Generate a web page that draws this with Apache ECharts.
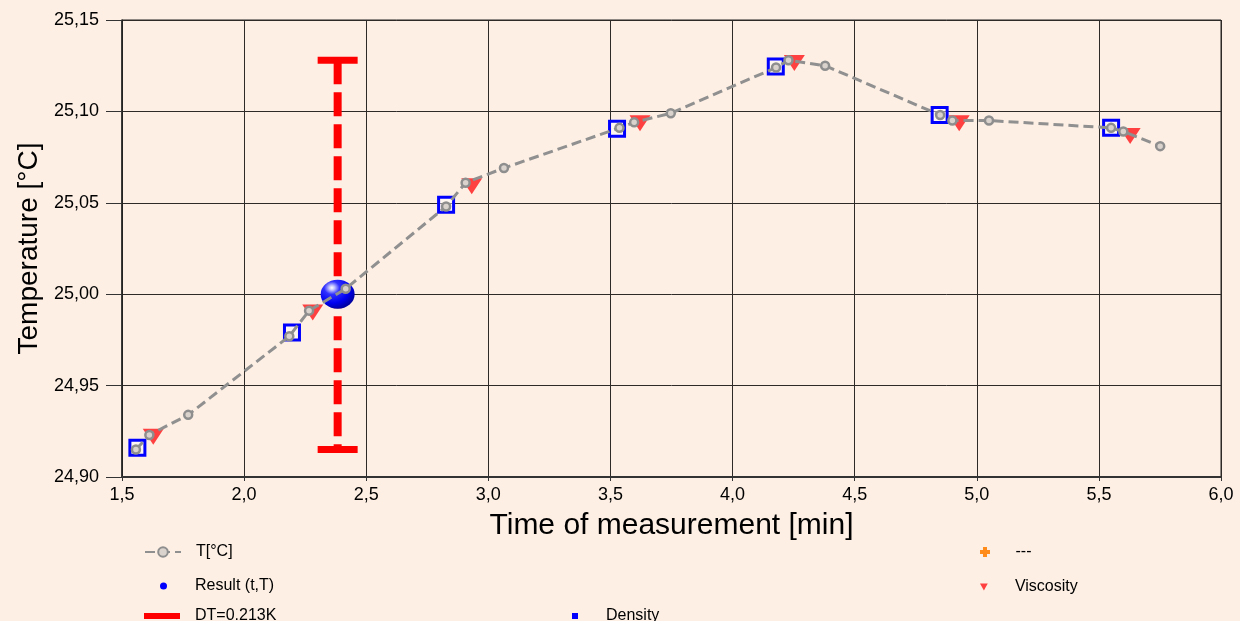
<!DOCTYPE html>
<html>
<head>
<meta charset="utf-8">
<script src="https://cdn.jsdelivr.net/npm/echarts@6/dist/echarts.min.js"></script>
<style>
  html, body { margin: 0; padding: 0; background: #fdefe4; }
  #chart { width: 1240px; height: 621px; }
</style>
</head>
<body>
<div id="chart"></div>
<script>
// Axis ticks
const xTicks = [1.5, 2.0, 2.5, 3.0, 3.5, 4.0, 4.5, 5.0, 5.5, 6.0];
const yTicks = [24.90, 24.95, 25.00, 25.05, 25.10, 25.15];

// Temperature trace T[°C]
const tTimes = [1.557, 1.612, 1.771, 2.185, 2.266, 2.416, 2.827, 2.907, 3.064, 3.537, 3.597,
                3.747, 4.178, 4.229, 4.379, 4.850, 4.900, 5.050, 5.550, 5.600, 5.751];
const tTemps = [24.915, 24.923, 24.934, 24.977, 24.991, 25.003, 25.048, 25.061, 25.069, 25.091, 25.094,
                25.099, 25.124, 25.128, 25.125, 25.098, 25.095, 25.095, 25.091, 25.089, 25.081];

// Density readings
const densityTimes = [1.563, 2.196, 2.827, 3.527, 4.177, 4.848, 5.550];
const densityTemps = [24.916, 24.979, 25.049, 25.0905, 25.1245, 25.098, 25.091];

// Viscosity readings
const viscosityTimes = [1.628, 2.281, 2.932, 3.621, 4.253, 4.928, 5.628];
const viscosityTemps = [24.922, 24.990, 25.059, 25.0935, 25.1265, 25.0935, 25.0865];

// Result point and temperature span
const resultTime = [2.383];
const resultTemp = [25.000];
const dtTop = [25.128];
const dtBottom = [24.915];

const zip = (a, b) => a.map((v, i) => [v, b[i]]);
const comma = (v, d) => v.toFixed(d).replace('.', ',');
const FONT = '"Liberation Sans", Arial, sans-serif';

const chart = echarts.init(document.getElementById('chart'), null, { renderer: 'canvas' });

const legendBase = {
  orient: 'horizontal',
  padding: 0,
  selectedMode: false,
  textStyle: { fontFamily: FONT, fontSize: 16, color: '#000' }
};
function legendAt(left, top, name, icon, w, h, color, gap) {
  const item = { name: name };
  if (icon) item.icon = icon;
  if (color) item.itemStyle = { color: color, borderWidth: 0, opacity: 1 };
  return Object.assign({}, legendBase, {
    left: left, top: top, itemWidth: w, itemHeight: h,
    data: [item],
    textStyle: Object.assign({}, legendBase.textStyle, { padding: [0, 0, 0, gap] })
  });
}

const option = {
  backgroundColor: '#fdefe4',
  animation: false,
  grid: {
    left: 122, right: 19, top: 20, bottom: 144,
    show: true, borderColor: '#222', borderWidth: 1, backgroundColor: 'transparent'
  },
  xAxis: {
    type: 'value',
    min: xTicks[0], max: xTicks[xTicks.length - 1], interval: 0.5,
    name: 'Time of measurement [min]',
    nameLocation: 'middle', nameGap: 34,
    nameTextStyle: { fontFamily: FONT, fontSize: 30, color: '#000' },
    axisLine: { show: true, onZero: false, lineStyle: { color: '#333', width: 2 } },
    axisTick: { show: true, length: 4, lineStyle: { color: '#333' } },
    axisLabel: { margin: 9, fontFamily: FONT, fontSize: 18, color: '#000',
      formatter: v => comma(v, 1) },
    splitLine: { show: true, lineStyle: { color: '#2e2a27', width: 1 } }
  },
  yAxis: {
    type: 'value',
    min: yTicks[0], max: yTicks[yTicks.length - 1], interval: 0.05,
    name: 'Temperature [°C]',
    nameLocation: 'middle', nameGap: 78, nameRotate: 90,
    nameTextStyle: { fontFamily: FONT, fontSize: 28, color: '#000' },
    axisLine: { show: true, onZero: false, lineStyle: { color: '#222', width: 1.5 } },
    axisTick: { show: true, length: 16, lineStyle: { color: '#333' } },
    axisLabel: { margin: 23, fontFamily: FONT, fontSize: 18, color: '#000',
      formatter: v => comma(v, 2) },
    splitLine: { show: true, lineStyle: { color: '#2e2a27', width: 1 } }
  },
  legend: [
    legendAt(144, 544, 'T[°C]', null, 36, 12, null, 10),
    legendAt(160, 578, 'Result (t,T)', 'circle', 7, 7, '#0000ff', 23),
    legendAt(144, 608, 'DT=0.213K', 'rect', 36, 6, '#ff0000', 10),
    legendAt(572, 608, 'Density', 'rect', 6, 6, '#0000ff', 23),
    legendAt(980, 544, '---', 'path://M3,0H7V3H10V7H7V10H3V7H0V3H3Z', 11, 10, '#ff8c1a', 20),
    legendAt(980, 579, 'Viscosity', 'path://M0,0H10L5,9Z', 10, 7, '#ff4040', 21)
  ],
  series: [
    {
      name: 'DT=0.213K',
      type: 'custom',
      itemStyle: { color: '#ff0000' },
      encode: { x: 0, y: [1, 2] },
      data: resultTime.map((t, i) => [t, dtTop[i], dtBottom[i]]),
      renderItem: function (params, api) {
        const x = api.value(0);
        const pTop = api.coord([x, api.value(1)]);
        const pBot = api.coord([x, api.value(2)]);
        const half = 20;
        return {
          type: 'group',
          children: [
            { type: 'line', shape: { x1: pTop[0], y1: pTop[1], x2: pBot[0], y2: pBot[1] },
              style: { stroke: '#ff0000', lineWidth: 8, lineDash: [24, 8] } },
            { type: 'line', shape: { x1: pTop[0] - half, y1: pTop[1], x2: pTop[0] + half, y2: pTop[1] },
              style: { stroke: '#ff0000', lineWidth: 7 } },
            { type: 'line', shape: { x1: pBot[0] - half, y1: pBot[1], x2: pBot[0] + half, y2: pBot[1] },
              style: { stroke: '#ff0000', lineWidth: 7 } }
          ]
        };
      }
    },
    {
      name: 'Result (t,T)',
      type: 'scatter',
      symbol: 'circle',
      symbolSize: [34, 29],
      itemStyle: {
        opacity: 1,
        color: new echarts.graphic.RadialGradient(0.33, 0.28, 0.75, [
          { offset: 0, color: '#ffffff' },
          { offset: 0.1, color: '#c8c8ff' },
          { offset: 0.3, color: '#3030ff' },
          { offset: 0.7, color: '#0000f0' },
          { offset: 1, color: '#0000a0' }
        ])
      },
      data: zip(resultTime, resultTemp)
    },
    {
      name: 'Density',
      type: 'scatter',
      symbol: 'rect',
      symbolSize: 15,
      itemStyle: { opacity: 1, color: 'rgba(255,255,255,0.45)', borderColor: '#0000ff', borderWidth: 3 },
      data: zip(densityTimes, densityTemps)
    },
    {
      name: 'Viscosity',
      type: 'scatter',
      symbol: 'triangle',
      symbolRotate: 180,
      symbolSize: [21, 16],
      itemStyle: { opacity: 1, color: '#ff4040' },
      data: zip(viscosityTimes, viscosityTemps)
    },
    {
      name: '---',
      type: 'scatter',
      symbol: 'path://M3,0H7V3H10V7H7V10H3V7H0V3H3Z',
      itemStyle: { opacity: 1, color: '#ff8c1a' },
      data: []
    },
    {
      name: 'T[°C]',
      type: 'line',
      symbol: 'circle',
      symbolSize: 8,
      showAllSymbol: true,
      lineStyle: { color: '#909090', width: 3, type: [10, 5] },
      itemStyle: { color: '#d9d2cd', borderColor: '#8e8e8e', borderWidth: 2.5 },
      data: zip(tTimes, tTemps)
    }
  ]
};

chart.setOption(option);
</script>
</body>
</html>
